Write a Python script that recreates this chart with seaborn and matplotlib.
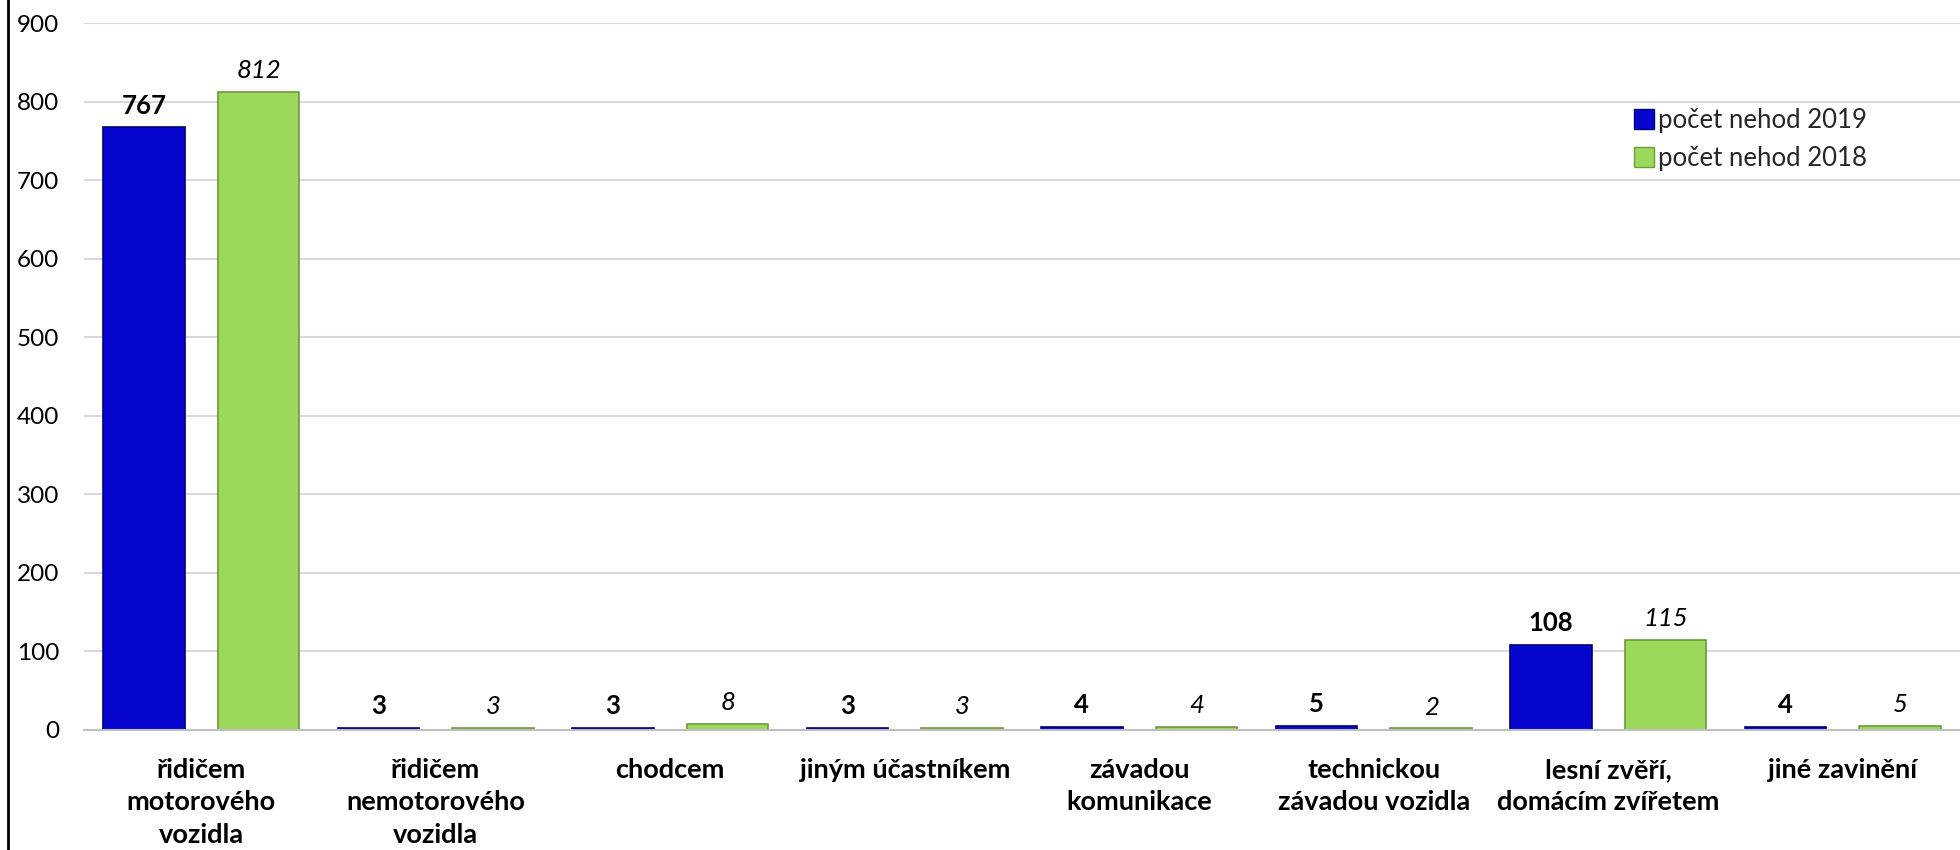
import pandas as pd
import matplotlib.pyplot as plt
import seaborn as sns
from matplotlib.lines import Line2D

# data
categories = ["řidičem\nmotorového\nvozidla", "řidičem\nnemotorového\nvozidla", "chodcem",
              "jiným účastníkem", "závadou\nkomunikace", "technickou\nzávadou vozidla",
              "lesní zvěří,\ndomácím zvířetem", "jiné zavinění"]
series = ["počet nehod 2019", "počet nehod 2018"]
values_2019 = [767, 3, 3, 3, 4, 5, 108, 4]
values_2018 = [812, 3, 8, 3, 4, 2, 115, 5]
yticks = [0, 100, 200, 300, 400, 500, 600, 700, 800, 900]

df = pd.DataFrame({
    "kategorie": categories * 2,
    "rok": [series[0]] * len(categories) + [series[1]] * len(categories),
    "pocet": values_2019 + values_2018,
})

sns.set_theme(style="white")
plt.rcParams['font.family'] = ['Lato', 'DejaVu Sans']

fig = plt.figure(figsize=(19.6, 8.5), dpi=100)
ax = fig.add_axes([84 / 1960, 120 / 850, 1 - 84 / 1960, 707 / 850])

colors = {"počet nehod 2019": "#0606CF", "počet nehod 2018": "#9CD95A"}
edges = ["#00007A", "#6C9A3A"]
sns.barplot(data=df, x="kategorie", y="pocet", hue="rok", palette=colors,
            saturation=1, width=0.98, gap=0.29, errorbar=None, ax=ax, legend=False)

for cont, ec, weight, style in zip(ax.containers, edges, ["bold", "normal"], ["normal", "italic"]):
    for bar in cont:
        bar.set_edgecolor(ec)
        bar.set_linewidth(1.2)
    ax.bar_label(cont, padding=7, fontsize=18.5, fontweight=weight, fontstyle=style, color="black")

ax.set_ylim(0, 900)
ax.set_xlim(-0.5, 7.4)
ax.set_yticks(yticks)
ax.yaxis.grid(True, color="#D9D9D9", linewidth=1.5)
ax.set_axisbelow(True)
ax.set_xlabel("")
ax.set_ylabel("")

for s in ["top", "right", "left"]:
    ax.spines[s].set_visible(False)
ax.spines["bottom"].set_color("#BFBFBF")
ax.spines["bottom"].set_linewidth(1.5)

ax.tick_params(axis="y", length=0, pad=18, labelsize=17.5, labelcolor="black")
ax.tick_params(axis="x", which="major", length=0, pad=20, labelsize=19.5)
ax.set_xticks([i - 0.5 for i in range(9)], minor=True)
ax.tick_params(axis="x", which="minor", length=7, width=1.5, color="#BFBFBF", direction="out")
for lab in ax.get_xticklabels():
    lab.set_fontweight("bold")
    lab.set_linespacing(1.42)
    lab.set_color("black")

handles = [Line2D([], [], marker="s", linestyle="none", markersize=15,
                  markerfacecolor=colors[s], markeredgecolor=ec) for s, ec in zip(series, edges)]
fig.legend(handles, series, loc="upper left", bbox_to_anchor=(1634 / 1960, 1 - 108 / 850),
           frameon=False, fontsize=18.5, labelspacing=0.5, handletextpad=0.15,
           handlelength=0.8, borderpad=0, borderaxespad=0)

# chart border on the left side
fig.add_artist(Line2D([8 / 1960, 8 / 1960], [0, 1], color="black", linewidth=2))

fig.savefig("out.png", dpi=100)
